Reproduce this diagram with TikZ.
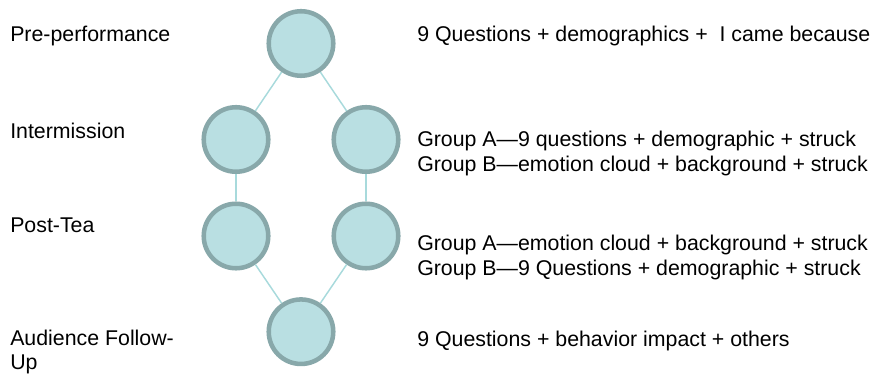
\documentclass[tikz,border=0pt]{standalone}
\usepackage{fontspec}
\setmainfont{Liberation Sans}
\definecolor{bubble}{HTML}{B9DFE2}
\definecolor{rim}{HTML}{88A8AA}
\definecolor{link}{HTML}{A8DADC}

\begin{document}
\begin{tikzpicture}[x=0.75pt,y=-0.75pt,
  stage/.style={circle,draw=rim,fill=bubble,line width=3.4pt,minimum size=48.4pt,inner sep=0pt},
  conn/.style={draw=link,line width=1.1pt},
  txt/.style={anchor=base west,inner sep=0pt,align=left,font=\fontsize{16}{18.75}\selectfont}]
\useasboundingbox (0,0) rectangle (875,374);
% circles
\node[stage] (pre)    at (301,43.5) {};
\node[stage] (intA)   at (236,139.5) {};
\node[stage] (intB)   at (366,139.5) {};
\node[stage] (teaA)   at (236,236) {};
\node[stage] (teaB)   at (366,236) {};
\node[stage] (follow) at (301,331.7) {};
\foreach \a/\b in {pre/intA,pre/intB,intA/teaA,intB/teaB,teaA/follow,teaB/follow}
	\draw[conn] (\a) -- (\b);
% stage names
\node[txt] (preLbl)    at (10,41.5)  {Pre-performance};
\node[txt] (intLbl)    at (10,139) {Intermission};
\node[txt] (teaLbl)    at (10,233) {Post-Tea};
\node[txt,font=\fontsize{16}{17.5}\selectfont] (followLbl) at (10,369) {Audience Follow-\\Up};
% contents
\node[txt] (preTxt)    at (417,41.5)  {9 Questions + demographics +~ I came because};
\node[txt] (intTxt)    at (417,171.7) {Group A—9 questions + demographic + struck\\Group B—emotion cloud + background + struck};
\node[txt] (teaTxt)    at (417,275.7) {Group A—emotion cloud + background + struck\\Group B—9 Questions + demographic + struck};
\node[txt] (followTxt) at (417,346.5) {9 Questions + behavior impact + others};
\end{tikzpicture}
\end{document}
